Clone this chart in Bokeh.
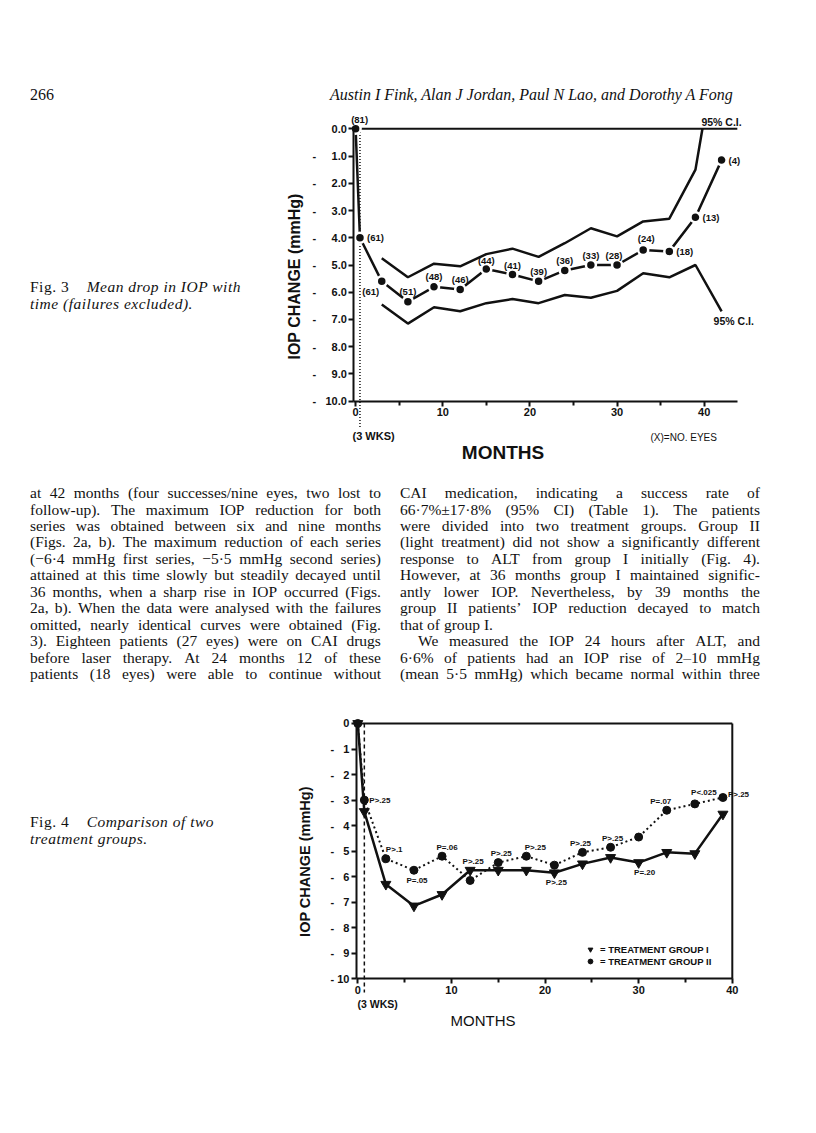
import math
from bokeh.plotting import figure
from bokeh.models import (Range1d, FixedTicker, CustomJSTickFormatter, ColumnDataSource,
                          Legend, LegendItem, Div)
from bokeh.layouts import column, row
from bokeh.core.properties import value
from bokeh.embed import file_html
from bokeh.resources import INLINE

# ---------------- data: Fig. 3 (mean drop in IOP, failures excluded) ----------------
fig3_months = [0, 0.5, 3, 6, 9, 12, 15, 18, 21, 24, 27, 30, 33, 36, 39, 42]
fig3_mean = [0.0, -4.0, -5.6, -6.35, -5.8, -5.9, -5.15, -5.35, -5.6, -5.2, -5.0, -5.0, -4.45, -4.5, -3.25, -1.15]
fig3_eyes = [81, 61, 61, 51, 48, 46, 44, 41, 39, 36, 33, 28, 24, 18, 13, 4]
fig3_upper_months = [3, 6, 9, 12, 15, 18, 21, 24, 27, 30, 33, 36, 39, 39.8]
fig3_upper = [-4.75, -5.45, -4.95, -5.05, -4.6, -4.4, -4.7, -4.2, -3.65, -3.95, -3.4, -3.3, -1.5, 0.0]
fig3_lower_months = [3, 6, 9, 12, 15, 18, 21, 24, 27, 30, 33, 36, 39, 42]
fig3_lower = [-6.45, -7.15, -6.55, -6.7, -6.4, -6.25, -6.4, -6.1, -6.2, -5.95, -5.3, -5.45, -5.0, -6.7]
fig3_wks = 0.5

# ---------------- data: Fig. 4 (two treatment groups) ----------------
fig4_months = [0, 0.7, 3, 6, 9, 12, 15, 18, 21, 24, 27, 30, 33, 36, 39]
fig4_group1 = [0.0, -3.45, -6.3, -7.15, -6.7, -5.75, -5.75, -5.75, -5.85, -5.5, -5.25, -5.45, -5.05, -5.1, -3.55]
fig4_group2 = [0.0, -3.0, -5.3, -5.75, -5.2, -6.15, -5.45, -5.2, -5.55, -5.05, -4.85, -4.45, -3.4, -3.15, -2.9]
fig4_p = ["", "P>.25", "P>.1", "P=.05", "P=.06", "P>.25", "P>.25", "P>.25", "P>.25", "P>.25",
          "P>.25", "P=.20", "P=.07", "P<.025", "P>.25"]
fig4_wks = 0.7

y_ticks = [0, -1, -2, -3, -4, -5, -6, -7, -8, -9, -10]
x_ticks = [0, 10, 20, 30, 40]
x_minor = [5, 15, 25, 35]

# ---------------- styling / placement (not data) ----------------
SANS = "Liberation Sans"
SERIF = "Liberation Serif"
INK = "#111111"

fig3_label_place = [("center", 4, -9), ("left", 7, 0), ("center", -11, 10), ("center", 0, -10),
                    ("center", 0, -10), ("center", 0, -10), ("center", 0, -9), ("center", 0, -9),
                    ("center", 0, -10), ("center", 0, -10), ("center", 0, -10), ("center", -3, -10),
                    ("center", 3, -12), ("left", 7, 0), ("left", 7, 0), ("left", 7, 0)]
fig4_p_place = [None, ("g2", "left", 5, 0), ("g2", "left", 0, -9), ("g2", "center", 3, 10),
                ("g2", "center", 5, -9), ("g1", "center", 3, -9), ("g2", "center", 3, -9),
                ("g2", "center", 9, -9), ("g1", "center", 2, 10), ("g2", "center", -2, -9),
                ("g2", "center", 2, -9), ("g1", "center", 6, 10), ("g2", "center", -6, -9),
                ("g2", "center", 9, -11), ("g2", "left", 5, -3)]


def make_fig(w, h, xr, yr):
    p = figure(width=w, height=h, x_range=Range1d(*xr), y_range=Range1d(*yr),
               output_backend="svg", toolbar_location=None,
               min_border_left=0, min_border_right=0, min_border_top=0, min_border_bottom=0,
               margin=(0, 0, 0, 0))
    p.grid.visible = False
    p.outline_line_color = None
    p.background_fill_color = "white"
    p.border_fill_color = "white"
    return p


def style_axes(p, fmt_code, x_axis_at, y_axis_at, xbounds, ybounds):
    for ax in (p.xaxis[0], p.yaxis[0]):
        ax.axis_line_width = 2
        ax.axis_line_color = INK
        ax.major_tick_line_width = 2
        ax.major_tick_line_color = INK
        ax.minor_tick_line_width = 2
        ax.minor_tick_line_color = INK
        ax.major_tick_out = 5
        ax.major_tick_in = 0
        ax.minor_tick_out = 4
        ax.minor_tick_in = 0
        ax.major_label_text_font = SANS
        ax.major_label_text_font_style = "bold"
        ax.major_label_text_font_size = "11px"
        ax.major_label_text_color = INK
        ax.major_label_standoff = 2
    p.xaxis.ticker = FixedTicker(ticks=x_ticks, minor_ticks=x_minor)
    p.yaxis.ticker = FixedTicker(ticks=y_ticks, minor_ticks=[])
    p.yaxis.minor_tick_line_color = None
    p.yaxis.formatter = CustomJSTickFormatter(code=fmt_code)
    p.xaxis.fixed_location = x_axis_at
    p.yaxis.fixed_location = y_axis_at
    p.xaxis.bounds = xbounds
    p.yaxis.bounds = ybounds


def add_texts(p, xs, ys, texts, size, style="bold", align="center", angle=0.0):
    src = ColumnDataSource(dict(x=xs, y=ys, t=texts))
    p.text(x="x", y="y", text="t", source=src, text_align=align, text_baseline="middle",
           angle=angle, text_font=value(SANS), text_font_style=style,
           text_font_size=size, text_color=INK)


# ================= Fig. 3 =================
X3 = (-10.57, 47.61)
Y3 = (-12.58, 0.745)
Y3_MIN = -10
X3_AXIS = -0.2
X3_AXIS_END = 43.8
p3 = make_fig(507, 363, X3, Y3)
code3 = """
if (tick == 0) { return "0.0"; }
const a = Math.abs(tick);
return "- \\u2007" + (a < 10 ? "\\u2007" : "") + a.toFixed(1);
"""
style_axes(p3, code3, Y3_MIN, X3_AXIS, (X3_AXIS, X3_AXIS_END), (Y3_MIN, 0))

p3.line([X3_AXIS, X3_AXIS_END], [0, 0], line_width=2, color=INK)
p3.line([fig3_wks, fig3_wks], [0.1, Y3_MIN - 0.97], line_dash="1 2", line_width=1.5, color=INK)
p3.line(fig3_upper_months, fig3_upper, line_width=2.5, color=INK)
p3.line(fig3_lower_months, fig3_lower, line_width=2.5, color=INK)
p3.line(fig3_months, fig3_mean, line_width=2.5, color=INK)
p3.scatter(fig3_months, fig3_mean, marker="circle", size=10, fill_color=INK,
           line_color="white", line_width=2.5)

src3 = ColumnDataSource(dict(
    x=fig3_months, y=fig3_mean, t=["(%d)" % n for n in fig3_eyes],
    align=[a for a, _, _ in fig3_label_place],
    dx=[d for _, d, _ in fig3_label_place], dy=[d for _, _, d in fig3_label_place]))
p3.text(x="x", y="y", text="t", source=src3, text_align="align", x_offset="dx", y_offset="dy",
        text_baseline="middle", text_font=value(SANS), text_font_style="bold",
        text_font_size="9.5px", text_color=INK)

src3ci = ColumnDataSource(dict(x=[fig3_upper_months[-1], fig3_lower_months[-1]],
                               y=[fig3_upper[-1], fig3_lower[-1]],
                               t=["95% C.I.", "95% C.I."], dx=[-1, -8], dy=[-7, 10]))
p3.text(x="x", y="y", text="t", source=src3ci, text_align="left", x_offset="dx", y_offset="dy",
        text_baseline="middle", text_font=value(SANS), text_font_style="bold",
        text_font_size="10.5px", text_color=INK)

add_texts(p3, [-0.36], [Y3_MIN - 1.26], ["(3 WKS)"], "11px", align="left")
add_texts(p3, [33.84], [Y3_MIN - 1.33], ["(X)=NO. EYES"], "10px", style="normal", align="left")
add_texts(p3, [16.91], [Y3_MIN - 1.88], ["MONTHS"], "19px")
add_texts(p3, [-7.01], [-5.42], ["IOP CHANGE (mmHg)"], "16px", angle=math.pi / 2)

# ================= Fig. 4 =================
X4 = (-10.07, 44.08)
Y4 = (-12.735, 0.901)
Y4_MIN = -10
X4_AXIS = -0.15
X4_BOX = 40
p4 = make_fig(507, 348, X4, Y4)
code4 = """
if (tick == 0) { return "0"; }
const a = Math.abs(tick);
return "- " + (a < 10 ? "\\u2007" : "") + a.toFixed(0);
"""
style_axes(p4, code4, Y4_MIN, X4_AXIS, (X4_AXIS, X4_BOX), (Y4_MIN, 0))

p4.line([X4_AXIS, X4_BOX], [0, 0], line_width=2, color=INK)
p4.line([X4_BOX, X4_BOX], [0, Y4_MIN], line_width=2, color=INK)
p4.line([fig4_wks, fig4_wks], [0, Y4_MIN - 0.54], line_dash="4 3", line_width=1.5, color=INK)
p4.line(fig4_months, fig4_group2, line_width=2, line_dash="2 3", color=INK)
p4.line(fig4_months, fig4_group1, line_width=2.5, color=INK)
r_g1 = p4.scatter(fig4_months, fig4_group1, marker="inverted_triangle", size=10,
                  fill_color=INK, line_color=INK, line_width=1)
r_g2 = p4.scatter(fig4_months, fig4_group2, marker="circle", size=8,
                  fill_color=INK, line_color=INK, line_width=1)

series = {"g1": fig4_group1, "g2": fig4_group2}
px, py, pt, pa, pdx, pdy = [], [], [], [], [], []
for i, place in enumerate(fig4_p_place):
    if place is None:
        continue
    s, a, dx, dy = place
    px.append(fig4_months[i]); py.append(series[s][i]); pt.append(fig4_p[i])
    pa.append(a); pdx.append(dx); pdy.append(dy)
src4 = ColumnDataSource(dict(x=px, y=py, t=pt, align=pa, dx=pdx, dy=pdy))
p4.text(x="x", y="y", text="t", source=src4, text_align="align", x_offset="dx", y_offset="dy",
        text_baseline="middle", text_font=value(SANS), text_font_style="bold",
        text_font_size="8px", text_color=INK)

legend = Legend(items=[LegendItem(label="= TREATMENT GROUP I", renderers=[r_g1]),
                       LegendItem(label="= TREATMENT GROUP II", renderers=[r_g2])],
                location=(321, 81), glyph_width=12, glyph_height=12, label_height=12,
                label_standoff=4, spacing=0, padding=0, margin=0,
                label_text_font=SANS, label_text_font_style="bold", label_text_font_size="9.5px",
                label_text_color=INK, border_line_color=None, background_fill_alpha=0)
p4.add_layout(legend)

add_texts(p4, [-0.03], [Y4_MIN - 1.01], ["(3 WKS)"], "10.5px", align="left")
add_texts(p4, [13.37], [Y4_MIN - 1.64], ["MONTHS"], "15px", style="normal")
add_texts(p4, [-5.69], [-5.41], ["IOP CHANGE (mmHg)"], "14.5px", angle=math.pi / 2)

# ================= page text =================
def wrap(w, h, inner):
    return ('<div style="position:relative;width:%dpx;height:%dpx;color:%s;'
            'font-family:\'%s\',serif;">%s</div>' % (w, h, INK, SERIF, inner))


def at(left, top, html, size=16, lh=16, extra=""):
    return ('<div style="position:absolute;left:%dpx;top:%.1fpx;font-size:%.1fpx;'
            'line-height:%.1fpx;white-space:nowrap;%s">%s</div>' % (left, top, size, lh, extra, html))


def jline(left, top, width, txt, justify=True):
    if justify:
        words = "".join("<span>%s</span>" % w for w in txt.split(" "))
        return ('<div style="position:absolute;left:%dpx;top:%.1fpx;width:%dpx;font-size:15.5px;'
                'line-height:16px;display:flex;justify-content:space-between;white-space:nowrap;">'
                '%s</div>' % (left, top, width, words))
    return ('<div style="position:absolute;left:%dpx;top:%.1fpx;width:%dpx;font-size:15.5px;'
            'line-height:16px;white-space:nowrap;">%s</div>' % (left, top, width, txt))


CAP_STYLE = "letter-spacing:0.5px;"
header = Div(width=800, height=100, margin=(0, 0, 0, 0), text=wrap(800, 100,
    at(22, 79, "266") +
    at(322, 79, "<i>Austin I Fink, Alan J Jordan, Paul N Lao, and Dorothy A Fong</i>")))

cap3 = Div(width=255, height=363, margin=(0, 0, 0, 0), text=wrap(255, 363,
    at(22, 171, "Fig. 3&nbsp;&nbsp;&nbsp; <i>Mean drop in IOP with</i>",
       size=15.5, lh=16, extra=CAP_STYLE) +
    at(22, 187.5, "<i>time (failures excluded).</i>", size=15.5, lh=16, extra=CAP_STYLE)))

cap4 = Div(width=255, height=348, margin=(0, 0, 0, 0), text=wrap(255, 348,
    at(22, 114, "Fig. 4&nbsp;&nbsp;&nbsp; <i>Comparison of two</i>",
       size=15.5, lh=16, extra=CAP_STYLE) +
    at(22, 130.5, "<i>treatment groups.</i>", size=15.5, lh=16, extra=CAP_STYLE)))

left_lines = [
    "at 42 months (four successes/nine eyes, two lost to",
    "follow-up). The maximum IOP reduction for both",
    "series was obtained between six and nine months",
    "(Figs. 2a, b). The maximum reduction of each series",
    "(\u22126\u00b74 mmHg first series, \u22125\u00b75 mmHg second series)",
    "attained at this time slowly but steadily decayed until",
    "36 months, when a sharp rise in IOP occurred (Figs.",
    "2a, b). When the data were analysed with the failures",
    "omitted, nearly identical curves were obtained (Fig.",
    "3). Eighteen patients (27 eyes) were on CAI drugs",
    "before laser therapy. At 24 months 12 of these",
    "patients (18 eyes) were able to continue without",
]
right_lines = [
    "CAI medication, indicating a success rate of",
    "66\u00b77%\u00b117\u00b78% (95% CI) (Table 1). The patients",
    "were divided into two treatment groups. Group II",
    "(light treatment) did not show a significantly different",
    "response to ALT from group I initially (Fig. 4).",
    "However, at 36 months group I maintained signific-",
    "antly lower IOP. Nevertheless, by 39 months the",
    "group II patients\u2019 IOP reduction decayed to match",
    "that of group I.",
    "We measured the IOP 24 hours after ALT, and",
    "6\u00b76% of patients had an IOP rise of 2\u201310 mmHg",
    "(mean 5\u00b75 mmHg) which became normal within three",
]
body_inner = ""
for i, t in enumerate(left_lines):
    body_inner += jline(22, 22 + 16.45 * i - 8, 351, t)
for i, t in enumerate(right_lines):
    if i == 8:
        body_inner += jline(392, 22 + 16.45 * i - 8, 360, t, justify=False)
    elif i == 9:
        body_inner += jline(410, 22 + 16.45 * i - 8, 342, t)
    else:
        body_inner += jline(392, 22 + 16.45 * i - 8, 360, t)
body = Div(width=800, height=229, margin=(0, 0, 0, 0), text=wrap(800, 229, body_inner))

layout = column(header, row(cap3, p3, spacing=0), body, row(cap4, p4, spacing=0),
                spacing=0, margin=(8, 8, 8, 8))

open("out.html", "w").write(file_html(layout, INLINE))
